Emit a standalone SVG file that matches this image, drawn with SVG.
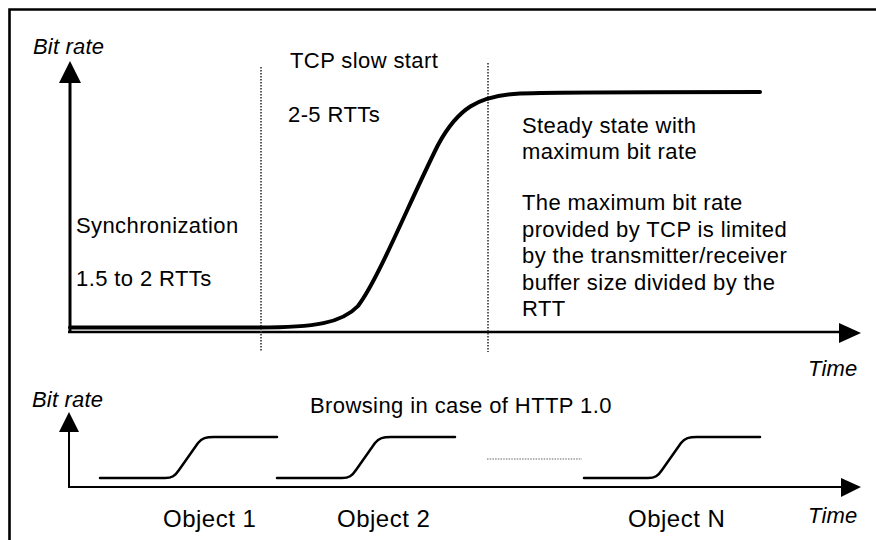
<svg xmlns="http://www.w3.org/2000/svg" width="876" height="540" viewBox="0 0 876 540">
  <defs>
    <style>
      .t { font-family: "Liberation Sans", Arial, sans-serif; font-size: 22px; letter-spacing: 0.4px; fill: #000; }
      .it { font-style: italic; letter-spacing: 0.2px; }
      .obj { font-size: 24px; letter-spacing: 0.5px; }
      .axis { stroke: #000; fill: none; }
      .curve { stroke: #000; fill: none; stroke-linecap: round; stroke-linejoin: round; }
      .dots { stroke: #333; stroke-width: 1.6; stroke-dasharray: 1.6 1.4; fill: none; }
      .head { fill: #000; }
    </style>
  </defs>
  <rect width="876" height="540" fill="#fff"/>
  <!-- outer frame (runs off the right and bottom) -->
  <path d="M9.5,545 L9.5,9.5 L880,9.5" fill="none" stroke="#000" stroke-width="2.6"/>

  <!-- upper chart: single TCP connection -->
  <g id="upper-axes">
    <line class="axis" x1="70" y1="333" x2="70" y2="80" stroke-width="3"/>
    <polygon class="head" points="70,61 59,83 81,83"/>
    <line class="axis" x1="68" y1="332" x2="842" y2="332" stroke-width="2.6"/>
    <polygon class="head" points="861,333 839,323 839,343"/>
    <text class="t it" x="33" y="54">Bit rate</text>
    <text class="t it" x="808" y="376">Time</text>
  </g>

  <g id="phase-dividers">
    <line class="dots" x1="261" y1="67" x2="261" y2="352"/>
    <line class="dots" x1="488" y1="63" x2="488" y2="352"/>
  </g>

  <g id="rate-curve">
    <path class="curve" stroke-width="4" d="M70,327.5 L258,327.5 C315,327.5 342,323 358,306 C378,280 408,205 438,145 C458,108 478,96 520,93.5 C560,92 620,92 760,92"/>
  </g>

  <g id="sync-label">
    <text class="t" x="76" y="233">Synchronization</text>
    <text class="t" x="76" y="286">1.5 to 2 RTTs</text>
  </g>
  <g id="slowstart-label">
    <text class="t" x="290" y="68">TCP slow start</text>
    <text class="t" x="288" y="122">2-5 RTTs</text>
  </g>
  <g id="steady-label">
    <text class="t" x="522" y="133">Steady state with</text>
    <text class="t" x="522" y="159">maximum bit rate</text>
    <text class="t" x="522" y="210">The maximum bit rate</text>
    <text class="t" x="522" y="236.5">provided by TCP is limited</text>
    <text class="t" x="522" y="263">by the transmitter/receiver</text>
    <text class="t" x="522" y="289.5">buffer size divided by the</text>
    <text class="t" x="522" y="316">RTT</text>
  </g>

  <!-- lower chart: HTTP 1.0 browsing -->
  <g id="lower-axes">
    <line class="axis" x1="69" y1="488" x2="69" y2="428" stroke-width="2"/>
    <polygon class="head" points="69,412 59,432 79,432"/>
    <line class="axis" x1="68" y1="487" x2="843" y2="487" stroke-width="2"/>
    <polygon class="head" points="861,487 841,478 841,497"/>
    <text class="t it" x="32" y="407">Bit rate</text>
    <text class="t it" x="808" y="523">Time</text>
    <text class="t" x="310" y="413">Browsing in case of HTTP 1.0</text>
  </g>

  <g id="object-1">
    <path class="curve" stroke-width="2.5" d="M100,478 L165,478 C172,478 175,476 179,470 L198,443 C202,438 206,437 214,437 L277,437"/>
    <text class="t obj" x="163" y="527">Object 1</text>
  </g>
  <g id="object-2">
    <path class="curve" stroke-width="2.5" d="M277,478 L342,478 C349,478 352,476 356,470 L375,443 C379,438 383,437 391,437 L455,437"/>
    <text class="t obj" x="337" y="527">Object 2</text>
  </g>
  <g id="gap">
    <line x1="487" y1="459" x2="582" y2="459" stroke="#666" stroke-width="1.2" stroke-dasharray="1.5 1.2"/>
  </g>
  <g id="object-n">
    <path class="curve" stroke-width="2.5" d="M584,478 L648,478 C655,478 658,476 662,470 L681,443 C685,438 689,437 697,437 L760,437"/>
    <text class="t obj" x="628" y="527">Object N</text>
  </g>
</svg>
